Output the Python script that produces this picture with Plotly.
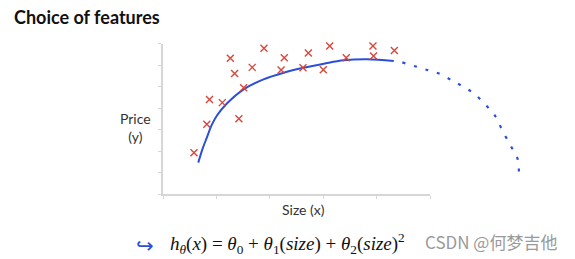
import plotly.graph_objects as go

# Data (axis units = tick intervals)
point_x = [0.58, 0.82, 0.87, 1.11, 1.26, 1.34, 1.42, 1.51, 1.67, 1.89,
           2.21, 2.27, 2.62, 2.72, 3.00, 3.12, 3.43, 3.93, 3.94, 4.33]
point_y = [1.92, 3.24, 4.40, 4.25, 6.31, 5.60, 3.50, 4.94, 5.89, 6.78,
           5.77, 6.34, 5.87, 6.56, 5.78, 6.88, 6.34, 6.88, 6.42, 6.67]

fit_x = [0.66, 0.74, 0.82, 0.91, 1.01, 1.20, 1.51, 1.88, 2.26, 2.63, 3.01, 3.38, 3.82, 4.32]
fit_y = [1.46, 2.10, 2.62, 3.20, 3.65, 4.22, 4.87, 5.33, 5.64, 5.87, 6.06, 6.22, 6.27, 6.19]

extrap_x = [4.48, 4.97, 5.20, 5.42, 5.60, 5.82, 6.06, 6.23, 6.35, 6.52, 6.64, 6.66]
extrap_y = [6.12, 5.75, 5.57, 5.26, 5.02, 4.67, 4.09, 3.58, 2.96, 2.19, 1.61, 0.87]

x_ticks = [0, 1, 2, 3, 4, 5]
y_ticks = [0, 1, 2, 3, 4, 5, 6, 7]

W, H = 575, 259
x0_px, x5_px, x7_px = 163, 430, 537
y0_px, y7_px = 194, 43.5

fig = go.Figure()

# invisible trace to keep the visible axis pair in use
fig.add_trace(go.Scatter(x=[0, 5], y=[0, 7], mode="markers",
                         marker=dict(opacity=0), hoverinfo="skip",
                         showlegend=False, xaxis="x", yaxis="y"))

fig.add_trace(go.Scatter(x=fit_x, y=fit_y, mode="lines", line_shape="spline",
                         line=dict(color="#2b4fd8", width=2),
                         showlegend=False, xaxis="x2", yaxis="y"))
fig.add_trace(go.Scatter(x=extrap_x, y=extrap_y, mode="lines", line_shape="spline",
                         line=dict(color="#2b4fd8", width=2.2, dash="3px,9px"),
                         showlegend=False, xaxis="x2", yaxis="y", cliponaxis=False))
fig.add_trace(go.Scatter(x=point_x, y=point_y, mode="markers",
                         marker=dict(symbol="x-thin", size=7,
                                     line=dict(color="#d8473a", width=1.4)),
                         showlegend=False, xaxis="x2", yaxis="y", cliponaxis=False))

axis_col = "#d6d6d6"
fig.update_layout(
    width=W, height=H,
    margin=dict(l=0, r=0, t=0, b=0),
    paper_bgcolor="white", plot_bgcolor="rgba(0,0,0,0)",
    xaxis=dict(domain=[x0_px / W, x5_px / W], range=[0, 5],
               tickvals=x_ticks, showticklabels=False, ticks="outside",
               ticklen=3, tickcolor=axis_col, showline=True, linecolor=axis_col,
               linewidth=1.5, showgrid=False, zeroline=False, anchor="y"),
    xaxis2=dict(domain=[x0_px / W, x7_px / W], range=[0, 7], visible=False,
                anchor="y"),
    yaxis=dict(domain=[(H - y0_px) / H, (H - y7_px) / H], range=[0, 7],
               tickvals=y_ticks, showticklabels=False, ticks="outside",
               ticklen=3, tickcolor=axis_col, showline=True, linecolor=axis_col,
               linewidth=1.5, showgrid=False, zeroline=False, anchor="x"),
)

def px_ann(text, x, y, size, color="#222", family="Lato", xanchor="center", **kw):
    fig.add_annotation(text=text, x=x / W, y=1 - y / H, xref="paper", yref="paper",
                       xanchor=xanchor, yanchor="middle", showarrow=False,
                       font=dict(size=size, color=color, family=family), **kw)

px_ann("<b>Choice of features</b>", 12, 17, 18, color="#111", xanchor="left")
px_ann("Price<br>(y)", 135, 127, 14, color="#333")
px_ann("Size (x)", 303, 209, 14, color="#333")
px_ann("↪", 145, 246, 21, color="#2b4fd8", family="DejaVu Sans")
px_ann("<i>h</i><sub><i>θ</i></sub>(<i>x</i>) = <i>θ</i><sub>0</sub> + <i>θ</i><sub>1</sub>(<i>size</i>) + <i>θ</i><sub>2</sub>(<i>size</i>)<sup>2</sup>",
       168, 243, 19, color="#111", family="Liberation Serif", xanchor="left")
px_ann("CSDN @何梦吉他", 423, 241, 17, color="#9a9a9a",
       family="Noto Sans CJK SC", xanchor="left")

fig.write_html("out.html")
